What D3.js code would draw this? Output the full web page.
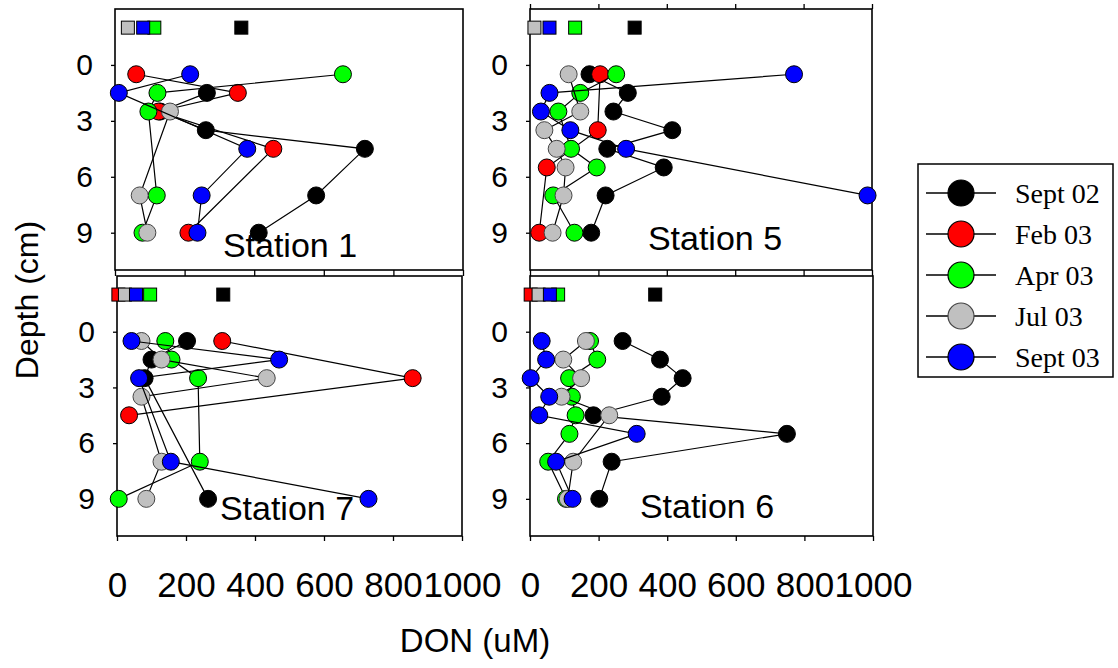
<!DOCTYPE html>
<html>
<head>
<meta charset="utf-8">
<script src="https://cdn.jsdelivr.net/npm/d3@7"></script>
<style>
  html, body { margin: 0; padding: 0; background: #fff; }
  svg { display: block; }
</style>
</head>
<body>
<svg id="chart" width="1118" height="668"></svg>
<script>
// ---------------- DATA ----------------
const seriesNames = ["Sept 02", "Feb 03", "Apr 03", "Jul 03", "Sept 03"];
const stationNames = ["Station 1", "Station 5", "Station 7", "Station 6"];
const xTicks = [0, 200, 400, 600, 800, 1000];
const yTicks = [0, 3, 6, 9];
const squareDepth = -2;

// Station 1
const depthsS1 = [0.5, 1.5, 2.5, 3.5, 4.5, 7, 9];
const s1Sept02 = [null, 264, 130, 261, 718, 578, 413];
const s1Feb03  = [61, 353, 125, null, 455, null, 211];
const s1Apr03  = [655, 122, 96, null, null, 120, 79];
const s1Jul03  = [null, null, 158, null, null, 71, 93];
const s1Sept03 = [216, 11, null, null, 380, 249, 237];
const s1Squares = [363, null, 113, 37, 81];

// Station 5
const depthsS5 = [0.5, 1.5, 2.5, 3.5, 4.5, 5.5, 7, 9];
const s5Sept02 = [174, 286, 244, 416, 226, 391, 221, 179];
const s5Feb03  = [205, null, null, 198, null, 49, null, 27];
const s5Apr03  = [252, 147, 83, null, 120, 195, 68, 130];
const s5Jul03  = [113, null, 147, 42, 78, 104, 98, 66];
const s5Sept03 = [772, 57, 32, 118, 281, null, 987, null];
const s5Squares = [306, null, 132, 13, 57];

// Station 7
const depthsS7 = [0.5, 1.5, 2.5, 3.5, 4.5, 7, 9];
const s7Sept02 = [203, 100, 80, null, null, null, 264];
const s7Feb03  = [305, null, 857, null, 35, null, null];
const s7Apr03  = [140, 158, 235, null, null, 240, 5];
const s7Jul03  = [71, 129, 434, 71, null, 129, 85];
const s7Sept03 = [42, 470, 64, null, null, 156, 729];
const s7Squares = [308, 4, 96, 23, 55];

// Station 6
const depthsS6 = [0.5, 1.5, 2.5, 3.5, 4.5, 5.5, 7, 9];
const s6Sept02 = [270, 379, 445, 384, 185, 749, 238, 202];
const s6Feb03  = [null, null, null, null, null, null, null, null];
const s6Apr03  = [175, 196, 114, 122, 133, 115, 53, 105];
const s6Jul03  = [163, 97, 149, 92, 231, null, 126, 110];
const s6Sept03 = [34, 47, 2, 56, 27, 311, 76, 124];
const s6Squares = [365, 2, 82, 25, 58];

// ---------------- STYLE / LAYOUT ----------------
const colors = ["#000000", "#ff0000", "#00ff00", "#c0c0c0", "#0000ff"];
const panels = [
  { depths: depthsS1, series: [s1Sept02, s1Feb03, s1Apr03, s1Jul03, s1Sept03], squares: s1Squares,
    box: [115, 463, 9, 270], label: [290, 257], bottomLabels: false, topTicks: false },
  { depths: depthsS5, series: [s5Sept02, s5Feb03, s5Apr03, s5Jul03, s5Sept03], squares: s5Squares,
    box: [530, 872, 9, 270], label: [715, 250], bottomLabels: false, topTicks: true },
  { depths: depthsS7, series: [s7Sept02, s7Feb03, s7Apr03, s7Jul03, s7Sept03], squares: s7Squares,
    box: [117, 462, 276, 536], label: [287, 520], bottomLabels: true, topTicks: false },
  { depths: depthsS6, series: [s6Sept02, s6Feb03, s6Apr03, s6Jul03, s6Sept03], squares: s6Squares,
    box: [530, 873, 276, 536], label: [707, 518], bottomLabels: true, topTicks: false }
];

const svg = d3.select("#chart");
const sans = "Arial, 'Liberation Sans', sans-serif";
const serif = "'Times New Roman', 'Liberation Serif', serif";

panels.forEach((p, i) => {
  const [x0, x1, y0, y1] = p.box;
  const x = d3.scaleLinear().domain([0, 1000]).range([x0, x1]);
  const y = d3.scaleLinear().domain([-3, 11]).range([y0, y1]);
  const g = svg.append("g");

  // frame
  g.append("rect").attr("x", x0).attr("y", y0).attr("width", x1 - x0).attr("height", y1 - y0)
    .attr("fill", "none").attr("stroke", "#000").attr("stroke-width", 1.6);

  // y axis
  const ya = g.append("g").attr("transform", `translate(${x0},0)`)
    .call(d3.axisLeft(y).tickValues(yTicks).tickSize(4).tickPadding(18).tickFormat(d3.format("d")));
  ya.select(".domain").remove();
  ya.selectAll("line").attr("stroke", "#000").attr("stroke-width", 1.3);
  ya.selectAll("text").attr("font-family", sans).attr("font-size", 30).attr("fill", "#000");

  // bottom axis
  const xa = g.append("g").attr("transform", `translate(0,${y1})`)
    .call(d3.axisBottom(x).tickValues(xTicks).tickSize(p.bottomLabels ? 5 : 6).tickPadding(31)
      .tickFormat(d3.format("d")));
  xa.select(".domain").remove();
  xa.selectAll("line").attr("stroke", "#000").attr("stroke-width", 1.3);
  if (p.bottomLabels) {
    xa.selectAll("text").attr("font-family", sans).attr("font-size", 35).attr("fill", "#000");
  } else {
    xa.selectAll("text").remove();
  }
  if (p.topTicks) {
    const ta = g.append("g").attr("transform", `translate(0,${y0})`)
      .call(d3.axisTop(x).tickValues(xTicks).tickSize(5));
    ta.select(".domain").remove();
    ta.selectAll("text").remove();
    ta.selectAll("line").attr("stroke", "#000").attr("stroke-width", 1.3);
  }

  // top squares (drawn in series order)
  p.squares.forEach((v, s) => {
    if (v == null) return;
    g.append("rect")
      .attr("x", x(v) - 6.5).attr("y", y(squareDepth) - 6.5)
      .attr("width", 13).attr("height", 13)
      .attr("fill", colors[s]).attr("stroke", "#000").attr("stroke-width", 1);
  });

  // series: line then markers
  p.series.forEach((vals, s) => {
    const pts = vals.map((v, k) => ({ v: v, d: p.depths[k] })).filter(o => o.v != null);
    if (!pts.length) return;
    const line = d3.line().x(o => x(o.v)).y(o => y(o.d));
    g.append("path").attr("d", line(pts)).attr("fill", "none")
      .attr("stroke", "#000").attr("stroke-width", 1.2);
    g.selectAll(null).data(pts).enter().append("circle")
      .attr("cx", o => x(o.v)).attr("cy", o => y(o.d)).attr("r", 8.5)
      .attr("fill", colors[s]).attr("stroke", s === 3 ? "#444" : "#000").attr("stroke-width", 1);
  });

  // station label
  g.append("text").attr("x", p.label[0]).attr("y", p.label[1])
    .attr("text-anchor", "middle").attr("font-family", sans).attr("font-size", 34)
    .attr("fill", "#000").text(stationNames[i]);
});

// axis titles
svg.append("text").attr("transform", "translate(38,300) rotate(-90)")
  .attr("text-anchor", "middle").attr("font-family", sans).attr("font-size", 32)
  .attr("fill", "#000").text("Depth (cm)");
svg.append("text").attr("x", 475).attr("y", 652)
  .attr("text-anchor", "middle").attr("font-family", sans).attr("font-size", 33)
  .attr("fill", "#000").text("DON (uM)");

// legend
const lg = svg.append("g");
lg.append("rect").attr("x", 918).attr("y", 164).attr("width", 195).attr("height", 213)
  .attr("fill", "#fff").attr("stroke", "#000").attr("stroke-width", 1.5);
const ly = d3.scalePoint().domain(seriesNames).range([193, 357]);
seriesNames.forEach((name, s) => {
  const yy = ly(name);
  lg.append("line").attr("x1", 926).attr("x2", 996).attr("y1", yy).attr("y2", yy)
    .attr("stroke", "#000").attr("stroke-width", 1.5);
  lg.append("circle").attr("cx", 961).attr("cy", yy).attr("r", 13)
    .attr("fill", colors[s]).attr("stroke", s === 3 ? "#444" : "#000").attr("stroke-width", 1.2);
  lg.append("text").attr("x", 1015).attr("y", yy + 10)
    .attr("font-family", serif).attr("font-size", 28).attr("fill", "#000").text(name);
});
</script>
</body>
</html>
